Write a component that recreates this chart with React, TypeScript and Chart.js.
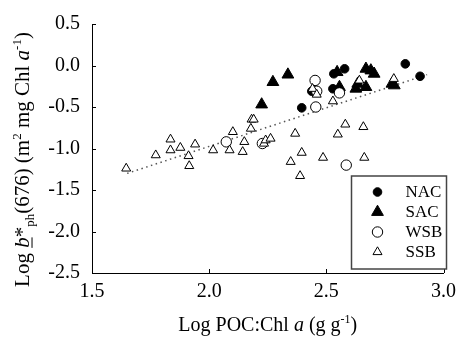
import React, { useEffect, useRef } from 'react';
import { Chart, registerables } from 'chart.js';
Chart.register(...registerables);

// Log POC:Chl a (x) vs Log b*ph(676) (y)
const NAC: number[][] = [
  [2.395, -0.51], [2.438, -0.31], [2.528, -0.28], [2.532, -0.10], [2.578, -0.04], [2.837, 0.02], [2.90, -0.13],
];
const SAC: number[][] = [
  [2.224, -0.47], [2.272, -0.20], [2.336, -0.11], [2.546, -0.08], [2.556, -0.26], [2.626, -0.28], [2.634, -0.22],
  [2.669, -0.26], [2.669, -0.04], [2.69, -0.06], [2.704, -0.10], [2.78, -0.22], [2.79, -0.24],
];
const WSB: number[][] = [
  [2.073, -0.92], [2.227, -0.94], [2.452, -0.18], [2.459, -0.31], [2.455, -0.50], [2.556, -0.33], [2.585, -1.20],
];
const SSB: number[][] = [
  [1.646, -1.24], [1.772, -1.08], [1.835, -0.89], [1.835, -1.02], [1.877, -0.99], [1.912, -1.09], [1.915, -1.21],
  [1.94, -0.95], [2.017, -1.02], [2.087, -1.02], [2.101, -0.80], [2.143, -1.04], [2.15, -0.92], [2.178, -0.76],
  [2.181, -0.65], [2.19, -0.65], [2.234, -0.94], [2.241, -0.90], [2.262, -0.88], [2.367, -0.82], [2.348, -1.16],
  [2.388, -1.33], [2.395, -1.05], [2.441, -0.28], [2.459, -0.35], [2.486, -1.11], [2.528, -0.43], [2.549, -0.83],
  [2.581, -0.71], [2.641, -0.18], [2.658, -0.74], [2.662, -1.11], [2.788, -0.16],
];
const FIT_LINE: number[][] = [[1.65, -1.30], [2.93, -0.11]];
const SERIES_NAMES = ['NAC', 'SAC', 'WSB', 'SSB'];
const X_TICKS = [1.5, 2.0, 2.5, 3.0];
const Y_TICKS = [0.5, 0.0, -0.5, -1.0, -1.5, -2.0, -2.5];

const FONT = '"Liberation Serif", "Times New Roman", serif';

type Part = { t: string; it?: boolean; sub?: boolean; sup?: boolean; ul?: boolean };

const X_TITLE: Part[] = [
  { t: 'Log POC:Chl ' }, { t: 'a', it: true }, { t: ' (g g' }, { t: '-1', sup: true }, { t: ')' },
];
const Y_TITLE: Part[] = [
  { t: 'Log ' }, { t: 'b', it: true, ul: true }, { t: '*' }, { t: 'ph', sub: true }, { t: '(676) (m' },
  { t: '2', sup: true }, { t: ' mg Chl ' }, { t: 'a', it: true }, { t: '-1', sup: true }, { t: ')' },
];

function drawRich(ctx: CanvasRenderingContext2D, parts: Part[], size: number, cx: number, baseline: number) {
  const small = Math.round(size * 0.6);
  const fontFor = (p: Part) => `${p.it ? 'italic ' : ''}${p.sub || p.sup ? small : size}px ${FONT}`;
  let total = 0;
  const widths = parts.map((p) => {
    ctx.font = fontFor(p);
    const w = ctx.measureText(p.t).width;
    total += w;
    return w;
  });
  let x = cx - total / 2;
  ctx.textAlign = 'left';
  ctx.textBaseline = 'alphabetic';
  ctx.fillStyle = '#000';
  parts.forEach((p, i) => {
    ctx.font = fontFor(p);
    const dy = p.sub ? size * 0.22 : p.sup ? -size * 0.4 : 0;
    ctx.fillText(p.t, x, baseline + dy);
    if (p.ul) ctx.fillRect(x, baseline + size * 0.12, widths[i], 1);
    x += widths[i];
  });
}

type MarkerStyle = { shape: 'circle' | 'triangle'; r: number; fill: string };
const MARKERS: MarkerStyle[] = [
  { shape: 'circle', r: 4.3, fill: '#000' },
  { shape: 'triangle', r: 6.8, fill: '#000' },
  { shape: 'circle', r: 5.2, fill: '#fff' },
  { shape: 'triangle', r: 5.2, fill: '#fff' },
];

function drawMarker(ctx: CanvasRenderingContext2D, m: MarkerStyle, x: number, y: number) {
  ctx.beginPath();
  if (m.shape === 'circle') {
    ctx.arc(x, y, m.r, 0, Math.PI * 2);
  } else {
    ctx.moveTo(x, y - m.r);
    ctx.lineTo(x + m.r * Math.sin((2 * Math.PI) / 3), y + m.r * 0.5);
    ctx.lineTo(x - m.r * Math.sin((2 * Math.PI) / 3), y + m.r * 0.5);
    ctx.closePath();
  }
  ctx.fillStyle = m.fill;
  ctx.fill();
  ctx.strokeStyle = '#000';
  ctx.lineWidth = 1;
  ctx.stroke();
}

const decorPlugin = {
  id: 'decor',
  afterDraw(chart: any) {
    const ctx: CanvasRenderingContext2D = chart.ctx;
    const { left, right, top, bottom } = chart.chartArea;
    const xs = chart.scales.x;
    const ys = chart.scales.y;
    ctx.save();
    // inward tick marks
    ctx.strokeStyle = '#000';
    ctx.lineWidth = 1;
    ctx.beginPath();
    X_TICKS.forEach((v) => {
      const px = Math.round(xs.getPixelForValue(v)) + 0.5;
      ctx.moveTo(px, bottom);
      ctx.lineTo(px, bottom - 4);
    });
    Y_TICKS.forEach((v) => {
      const py = Math.round(ys.getPixelForValue(v)) + 0.5;
      ctx.moveTo(left, py);
      ctx.lineTo(left + 4, py);
    });
    ctx.stroke();

    // axis titles
    drawRich(ctx, X_TITLE, 20, (left + right) / 2, 331);
    ctx.save();
    ctx.translate(29, (top + bottom) / 2 + 11);
    ctx.rotate(-Math.PI / 2);
    drawRich(ctx, Y_TITLE, 21, 0, 0);
    ctx.restore();

    // legend box
    const lx = right - 92;
    const ly = top + 152;
    const lw = 95;
    const lh = 93;
    ctx.fillStyle = '#fff';
    ctx.fillRect(lx, ly, lw, lh);
    ctx.strokeStyle = '#444';
    ctx.lineWidth = 1.5;
    ctx.strokeRect(lx, ly, lw, lh);
    SERIES_NAMES.forEach((name, i) => {
      const yy = ly + 16 + i * 20;
      drawMarker(ctx, MARKERS[i], lx + 26, yy);
      ctx.fillStyle = '#000';
      ctx.font = `17px ${FONT}`;
      ctx.textAlign = 'left';
      ctx.textBaseline = 'middle';
      ctx.fillText(name, lx + 54, yy + 1);
    });
    ctx.restore();
  },
};

export default function App() {
  const ref = useRef<HTMLCanvasElement>(null);
  useEffect(() => {
    if (!ref.current) return;
    const toPts = (arr: number[][]) => arr.map(([x, y]) => ({ x, y }));
    const chart = new Chart(ref.current, {
      type: 'scatter',
      data: {
        datasets: [
          {
            label: 'fit',
            data: toPts(FIT_LINE),
            showLine: true,
            borderColor: '#555',
            borderWidth: 1.5,
            borderDash: [1.5, 3.5],
            pointRadius: 0,
            order: 4,
          } as any,
          {
            label: SERIES_NAMES[0],
            data: toPts(NAC),
            pointStyle: 'circle',
            pointRadius: MARKERS[0].r,
            backgroundColor: '#000',
            borderColor: '#000',
            borderWidth: 1,
            order: 3,
          },
          {
            label: SERIES_NAMES[1],
            data: toPts(SAC),
            pointStyle: 'triangle',
            pointRadius: MARKERS[1].r,
            backgroundColor: '#000',
            borderColor: '#000',
            borderWidth: 1,
            order: 2,
          },
          {
            label: SERIES_NAMES[2],
            data: toPts(WSB),
            pointStyle: 'circle',
            pointRadius: MARKERS[2].r,
            backgroundColor: '#fff',
            borderColor: '#000',
            borderWidth: 1,
            order: 1,
          },
          {
            label: SERIES_NAMES[3],
            data: toPts(SSB),
            pointStyle: 'triangle',
            pointRadius: MARKERS[3].r,
            backgroundColor: '#fff',
            borderColor: '#000',
            borderWidth: 1,
            order: 0,
          },
        ],
      },
      options: {
        animation: false,
        responsive: false,
        devicePixelRatio: 1,
        layout: { padding: { left: 0, right: 15, top: 17, bottom: 0 } },
        plugins: { legend: { display: false }, tooltip: { enabled: false } },
        scales: {
          x: {
            type: 'linear',
            min: 1.5,
            max: 3.0,
            afterBuildTicks: (s: any) => { s.ticks = X_TICKS.map((v) => ({ value: v })); },
            afterFit: (s: any) => { s.height = 65; },
            ticks: {
              callback: (v: any) => Number(v).toFixed(1),
              font: { family: FONT, size: 20 },
              color: '#000',
              padding: 7,
              maxRotation: 0,
            },
            grid: { display: false, drawTicks: false },
            border: { display: true, color: '#000', width: 1 },
          },
          y: {
            type: 'linear',
            min: -2.5,
            max: 0.5,
            afterBuildTicks: (s: any) => { s.ticks = Y_TICKS.map((v) => ({ value: v })); },
            afterFit: (s: any) => { s.width = 92; },
            ticks: {
              callback: (v: any) => Number(v).toFixed(1),
              font: { family: FONT, size: 20 },
              color: '#000',
              padding: 12,
            },
            grid: { display: false, drawTicks: false },
            border: { display: true, color: '#000', width: 1 },
          },
        },
      },
      plugins: [decorPlugin],
    });
    return () => chart.destroy();
  }, []);
  return (
    <div style={{ position: 'absolute', left: 0, top: 0, width: 463, height: 338, background: '#fff' }}>
      <canvas ref={ref} width={463} height={338} />
    </div>
  );
}
